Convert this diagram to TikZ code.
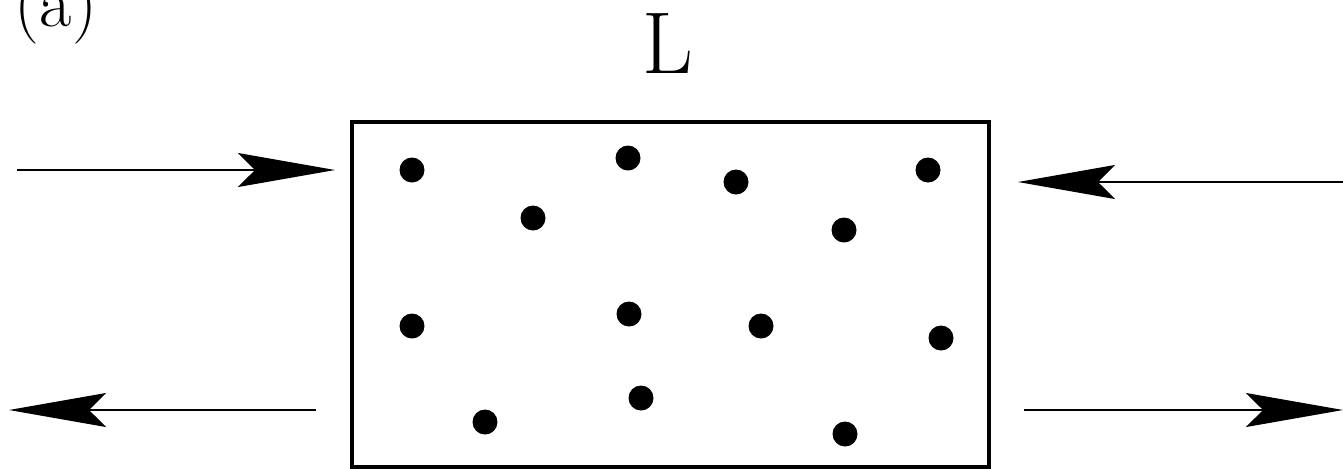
\documentclass[tikz,border=0pt]{standalone}
\usetikzlibrary{arrows.meta}

\begin{document}
\begin{tikzpicture}[x=0.02cm,y=-0.02cm,dot/.style={circle,fill=black,inner sep=0pt,minimum size=0.5cm},arr/.style={-{Stealth[length=1.94cm,width=0.68cm,inset=0.34cm]},line width=0.04cm}]
    \useasboundingbox (0,0) rectangle (1343,468);
    \node[anchor=base west,inner sep=0pt,font=\fontsize{40}{48}\selectfont] (tag) at (14.6,26) {(a)};
    \node[anchor=base,inner sep=0pt,font=\fontsize{50}{60}\selectfont] (len) at (668,73) {L};
    \draw[line width=0.08cm] (352,122) rectangle (988.5,467);
    \foreach \px/\py [count=\i] in {412/170,628/158,736/182,928/170,533/218,844/230,412/326,629/314,761/326,941/338,485/422,641/398,845/434}
      \node[dot] (d\i) at (\px,\py) {};
    \coordinate (inL0) at (17,170);
    \coordinate (inL1) at (335,170);
    \coordinate (inR0) at (1343,182);
    \coordinate (inR1) at (1018,182);
    \coordinate (outL0) at (316,410);
    \coordinate (outL1) at (9,410);
    \coordinate (outR0) at (1024,410);
    \coordinate (outR1) at (1343,410);
    \draw[arr] (inL0)--(inL1);
    \draw[arr] (inR0)--(inR1);
    \draw[arr] (outL0)--(outL1);
    \draw[arr] (outR0)--(outR1);
  \end{tikzpicture}
\end{document}
